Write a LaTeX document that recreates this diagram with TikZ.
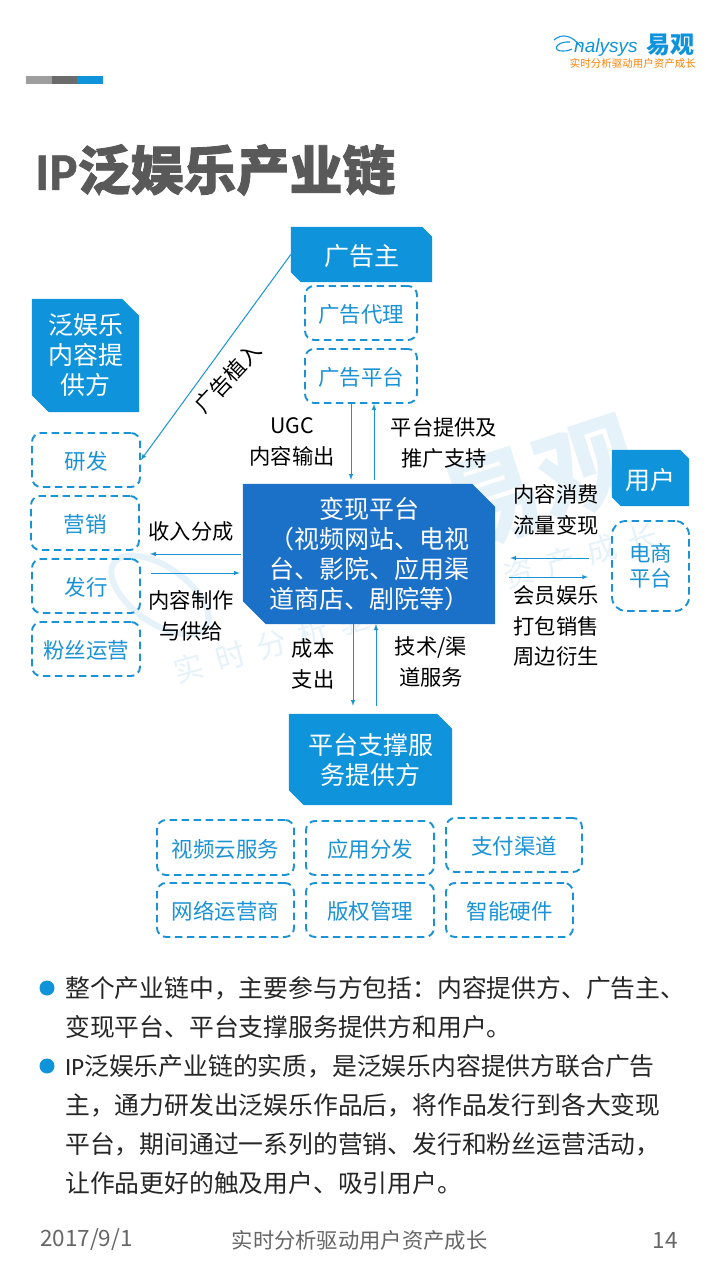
\documentclass[tikz,border=0pt]{standalone}
\usepackage{fontspec}
\setmainfont{Noto Sans CJK SC}
\newfontfamily\latinfont{Liberation Sans}
\newfontfamily\titlefont{Carlito}
\usetikzlibrary{backgrounds}
\definecolor{brandblue}{HTML}{0F94DC}
\definecolor{deepblue}{HTML}{1B70C8}
\definecolor{dashblue}{HTML}{1A93D6}
\definecolor{titlegray}{HTML}{595959}
\definecolor{footgray}{HTML}{666666}
\definecolor{markblue}{HTML}{E6F2FA}
\newcommand{\cutpanel}[3]{%
  \begin{scope}[on background layer]
    \fill[#2] (#1.north west) -- ([xshift=-#3pt]#1.north east) -- ([yshift=-#3pt]#1.north east) -- (#1.south east) -- ([xshift=#3pt]#1.south west) -- ([yshift=#3pt]#1.south west) -- cycle;
  \end{scope}}
\begin{document}
\begin{tikzpicture}[x=1pt,y=-1pt,
    headbox/.style={text=white,inner sep=0pt,align=center,font=\fontsize{25}{30}\selectfont,execute at begin node={\rule{0pt}{24.5pt}}},
    dashbox/.style={draw=dashblue,line width=1.9pt,dash pattern=on 7.5pt off 4.5pt,rounded corners=9pt,text=dashblue,inner sep=0pt,align=center,font=\fontsize{21.5}{25}\selectfont,execute at begin node={\rule{0pt}{21.5pt}}},
    flowlabel/.style={inner sep=0pt,align=center,text=black,font=\fontsize{21.3}{30.5}\selectfont},
    flow/.style={draw=dashblue,line width=1pt,-latex},
    bodyline/.style={anchor=west,inner sep=0pt,text=black!85,font=\fontsize{24.8}{30}\selectfont},
    foottext/.style={inner sep=0pt,text=footgray,font=\fontsize{21.3}{26}\selectfont}
  ]
  \useasboundingbox (0,0) rectangle (720,1280);

  % watermark
  \begin{scope}[on background layer]
    \fill[white] (0,0) rectangle (720,1280);
    \node[rotate=18,text=markblue,inner sep=0pt,font=\fontsize{100}{100}\selectfont\bfseries] (markname) at (540,485) {易观};
    \node[rotate=16,text=markblue,inner sep=0pt,font=\fontsize{30}{34}\selectfont\addfontfeature{LetterSpace=43}] (markline) at (416,603) {实时分析驱动用户资产成长};
    \draw[markblue,line width=6pt,rotate around={-35:(160,595)}] (160,595) ellipse (56 and 28);
  \end{scope}

  % header
  \fill[black!38] (26,76) rectangle (52,84);
  \fill[black!58] (52,76) rectangle (77,84);
  \fill[brandblue] (77,76) rectangle (103,84);
  \draw[brandblue,line width=1.1pt] (554,40) .. controls (562,33) and (572,35) .. (581,47);
  \draw[brandblue,line width=1.1pt] (570,42) .. controls (555,41) and (552,52) .. (563,51) .. controls (567,51) .. (572,49);
  \node[anchor=west,inner sep=0pt,text=brandblue,font=\latinfont\fontsize{19}{20}\selectfont\itshape] (logoname) at (574,48) {nalysys};
  \node[anchor=east,inner sep=0pt,text=brandblue,font=\fontsize{24}{24}\selectfont\bfseries] (logocn) at (695,45) {易观};
  \node[anchor=east,inner sep=0pt,text=orange,font=\fontsize{10.5}{12}\selectfont] (logoline) at (696,64) {实时分析驱动用户资产成长};
  \node[anchor=west,inner sep=0pt,text=titlegray,font=\fontsize{53}{56}\selectfont\bfseries\addfontfeature{FakeBold=1.5}] (title) at (35,170) {{\titlefont\bfseries\addfontfeature{FakeBold=1} IP}泛娱乐产业链};

  % boxes
  \node[headbox,minimum width=141pt,minimum height=55pt] (advert) at (361.5,254.5) {广告主};
  \cutpanel{advert}{brandblue}{10}
  \node[dashbox,minimum width=112pt,minimum height=54pt] (agency) at (361,313) {广告代理};
  \node[dashbox,minimum width=112pt,minimum height=54pt] (adplat) at (361,376) {广告平台};

  \node[headbox,minimum width=107pt,minimum height=113pt] (maker) at (85.5,355.5) {泛娱乐\\内容提\\供方};
  \cutpanel{maker}{brandblue}{17}
  \node[dashbox,minimum width=108pt,minimum height=54pt] (research) at (86,460) {研发};
  \node[dashbox,minimum width=108pt,minimum height=54pt] (market) at (85,523) {营销};
  \node[dashbox,minimum width=108pt,minimum height=54pt] (release) at (86,586) {发行};
  \node[dashbox,minimum width=108pt,minimum height=54pt] (fans) at (86,649) {粉丝运营};

  \node[headbox,minimum width=252pt,minimum height=140pt] (outlet) at (369,554) {变现平台\\（视频网站、电视\\台、影院、应用渠\\道商店、剧院等）};
  \cutpanel{outlet}{deepblue}{23}

  \node[headbox,minimum width=77pt,minimum height=56pt] (user) at (650.5,478) {用户};
  \cutpanel{user}{brandblue}{9}
  \node[dashbox,rounded corners=14pt,minimum width=77pt,minimum height=90pt] (shop) at (650.5,566) {电商\\平台};

  \node[headbox,minimum width=163pt,minimum height=91pt] (support) at (370.5,759.5) {平台支撑服\\务提供方};
  \cutpanel{support}{brandblue}{15}
  \node[dashbox,minimum width=137pt,minimum height=55pt] (cloud) at (225.5,847.5) {视频云服务};
  \node[dashbox,minimum width=128pt,minimum height=54pt] (appdist) at (370,848) {应用分发};
  \node[dashbox,minimum width=136pt,minimum height=54pt] (payment) at (514,845) {支付渠道};
  \node[dashbox,minimum width=137pt,minimum height=54pt] (network) at (225.5,910) {网络运营商};
  \node[dashbox,minimum width=128pt,minimum height=54pt] (rights) at (370,910) {版权管理};
  \node[dashbox,minimum width=127pt,minimum height=54pt] (device) at (509.5,910) {智能硬件};

  % connector lanes
  \coordinate (laneA) at (351,0);
  \coordinate (laneB) at (374,0);
  \coordinate (laneC) at (353,0);
  \coordinate (laneD) at (376,0);
  \coordinate (laneE) at (0,554);
  \coordinate (laneF) at (0,573);
  \coordinate (laneG) at (0,558);
  \coordinate (laneH) at (0,577);

  \draw[flow] (advert.west) -- (research.east);
  \draw[flow,shorten >=4pt] (adplat.south -| laneA) -- (outlet.north -| laneA);
  \draw[flow,shorten <=4pt] (outlet.north -| laneB) -- (adplat.south -| laneB);
  \draw[flow,shorten >=10pt,shorten <=2pt] (outlet.west |- laneE) -- (market.east |- laneE);
  \draw[flow,shorten <=10pt,shorten >=3pt] (release.east |- laneF) -- (outlet.west |- laneF);
  \draw[flow,shorten <=22pt,shorten >=15pt] (shop.west |- laneG) -- (outlet.east |- laneG);
  \draw[flow,shorten <=14pt,shorten >=23pt] (outlet.east |- laneH) -- (shop.west |- laneH);
  \draw[flow,shorten >=8pt] (outlet.south -| laneC) -- (support.north -| laneC);
  \draw[flow,shorten <=8pt] (support.north -| laneD) -- (outlet.south -| laneD);

  % labels
  \node[flowlabel,rotate=47] (lblplace) at (228,378) {广告植入};
  \node[flowlabel] (lblugc) at (292,442) {UGC\\内容输出};
  \node[flowlabel] (lblpromo) at (444,443) {平台提供及\\推广支持};
  \node[flowlabel] (lblshare) at (191,531) {收入分成};
  \node[flowlabel] (lblmake) at (191,616) {内容制作\\与供给};
  \node[flowlabel] (lblspend) at (556,510) {内容消费\\流量变现};
  \node[flowlabel] (lblbundle) at (556,626) {会员娱乐\\打包销售\\周边衍生};
  \node[flowlabel] (lblcost) at (313,664) {成本\\支出};
  \node[flowlabel] (lbltech) at (431,662) {技术/渠\\道服务};

  % body text
  \fill[brandblue] (47,988) circle (7.5);
  \fill[brandblue] (47,1066) circle (7.5);
  \node[bodyline] (bodyA) at (65,988) {整个产业链中，主要参与方包括：内容提供方、广告主、};
  \node[bodyline] (bodyB) at (65,1027) {变现平台、平台支撑服务提供方和用户。};
  \node[bodyline] (bodyC) at (65,1066) {{\titlefont IP}泛娱乐产业链的实质，是泛娱乐内容提供方联合广告};
  \node[bodyline] (bodyD) at (65,1105) {主，通力研发出泛娱乐作品后，将作品发行到各大变现};
  \node[bodyline] (bodyE) at (65,1144) {平台，期间通过一系列的营销、发行和粉丝运营活动，};
  \node[bodyline] (bodyF) at (65,1183) {让作品更好的触及用户、吸引用户。};

  % footer
  \node[foottext,anchor=west,font=\fontsize{22.5}{26}\selectfont] (footdate) at (40,1240) {2017/9/1};
  \node[foottext] (footline) at (359.5,1240) {实时分析驱动用户资产成长};
  \node[foottext,anchor=east,font=\fontsize{22.5}{26}\selectfont] (footpage) at (678,1240) {14};
\end{tikzpicture}
\end{document}
